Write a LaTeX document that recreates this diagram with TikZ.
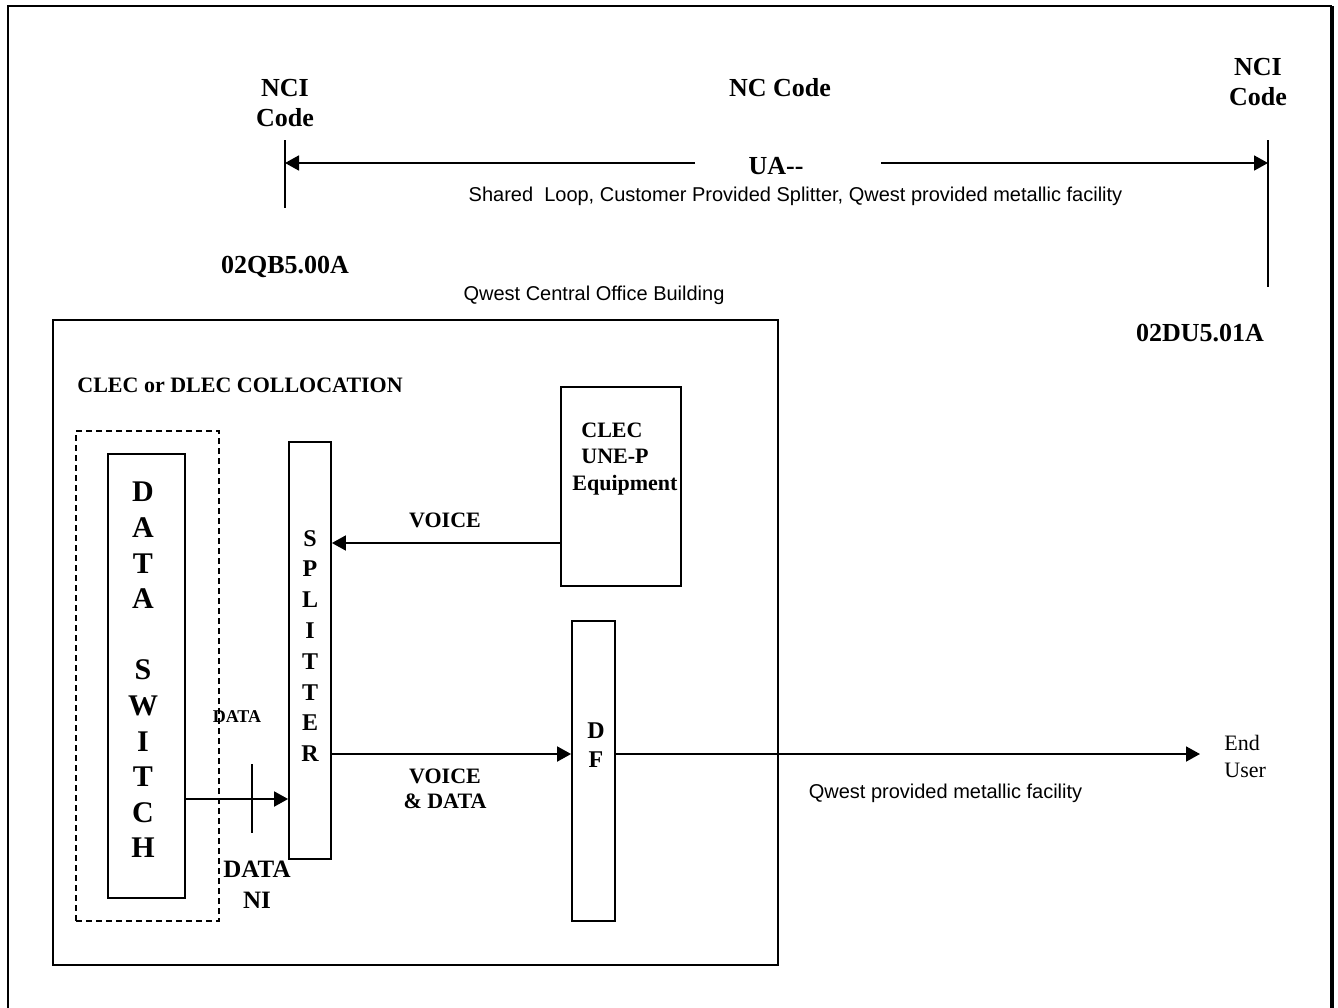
\documentclass[tikz,border=0pt]{standalone}
\usepackage{fontspec}
\setmainfont{Liberation Serif}
\newfontfamily\arialfont{Liberation Sans}
\usetikzlibrary{arrows.meta,fit}
\begin{document}
\begin{tikzpicture}[x=0.5pt,y=-0.5pt,
  ln/.style={line width=0.9pt},
  arr/.style={line width=0.9pt,-{Triangle[length=7pt,width=7.5pt]}},
  box/.style={draw,line width=0.9pt,inner sep=0pt},
  lbl/.style={inner sep=0pt,font=\bfseries\fontsize{11}{12.5}\selectfont,align=center},
  big/.style={inner sep=0pt,font=\bfseries\fontsize{13}{15}\selectfont,align=center},
  sans/.style={inner sep=0pt,font=\arialfont\fontsize{10}{12}\selectfont},
]
\useasboundingbox (0,0) rectangle (1338,1007);
\fill[white] (0,0) rectangle (1338,1007);
% outer frame
\draw[line width=1pt] (8,1015) -- (8,6) -- (1332,6);
\draw[line width=2pt] (1332,6) -- (1332,1015);

% top labels
\node[big] (nciL) at (285,103) {NCI\\Code};
\node[big] (nc) at (780,88) {NC Code};
\node[big] (nciR) at (1258,82) {NCI\\Code};
\coordinate (ltT) at (285,140); \coordinate (ltB) at (285,208);
\coordinate (rtT) at (1268,140); \coordinate (rtB) at (1268,287);
\draw[ln] (ltT) -- (ltB);
\draw[ln] (rtT) -- (rtB);
\node[big] (ua) at (776,166) {UA-{}-};
\coordinate (uaL) at (695,163); \coordinate (uaR) at (881,163);
\coordinate (ltM) at (285,163); \coordinate (rtM) at (1268,163);
\draw[arr] (uaL) -- (ltM);
\draw[arr] (uaR) -- (rtM);
\node[sans] (shared) at (795.5,196) {Shared\ \ Loop, Customer Provided Splitter, Qwest provided metallic facility};
\node[big] (qb) at (285,267) {02QB5.00A};
\node[sans] (cob) at (594,295) {Qwest Central Office Building};
\node[big] (du) at (1200,333) {02DU5.01A};

% central office
\node[box, fit={(53,320) (778,965)}] (co) {};
\node[lbl, anchor=west] (coll) at (77,385) {CLEC or DLEC COLLOCATION};
\node[draw, line width=0.75pt, dash pattern=on 3pt off 2pt, inner sep=0pt, fit={(76,431) (219,921)}] (dash) {};
\node[box, fit={(108,454) (185,898)}] (sw) {};
\node[inner sep=0pt, font=\bfseries\fontsize{15}{17.8}\selectfont, align=center] (swt) at (143,670) {D\\A\\T\\A\\[17.8pt]S\\W\\I\\T\\C\\H};

\node[box, fit={(289,442) (331,859)}] (sp) {};
\node[inner sep=0pt, font=\bfseries\fontsize{12}{15.4}\selectfont, align=center] (spt) at (310,646) {S\\P\\L\\I\\T\\T\\E\\R};

\node[box, fit={(561,387) (681,586)}] (cl) {};
\node[inner sep=0pt, font=\bfseries\fontsize{11}{13.25}\selectfont, align=left, anchor=west] (clt) at (572,459) {\hspace*{4.5pt}CLEC\\\hspace*{4.5pt}UNE-P\\Equipment};

\node[box, fit={(572,621) (615,921)}] (df) {};
\node[inner sep=0pt, font=\bfseries\fontsize{12}{14.5}\selectfont, align=center] (dft) at (596,745) {D\\F};

\node[lbl] (vo) at (445,520) {VOICE};
\node[lbl] (vd) at (445,788.5) {VOICE\\\& DATA};
\node[inner sep=0pt, font=\bfseries\fontsize{9}{11}\selectfont] (dsm) at (237,717) {DATA};
\node[inner sep=0pt, font=\bfseries\fontsize{12.5}{15.5}\selectfont, align=center] (dni) at (257,884.5) {DATA\\NI};
\coordinate (nT) at (252,764); \coordinate (nB) at (252,833);
\draw[ln] (nT) -- (nB);

% connectors
\coordinate (yv) at (0,543);
\draw[arr] (cl.west |- yv) -- (sp.east |- yv);
\coordinate (yvd) at (0,754);
\draw[arr] (sp.east |- yvd) -- (df.west |- yvd);
\coordinate (eu) at (1200,754);
\draw[arr] (df.east |- yvd) -- (eu);
\coordinate (yd) at (0,799);
\draw[arr] (sw.east |- yd) -- (sp.west |- yd);

\node[sans] (qpm) at (945.5,793) {Qwest provided metallic facility};
\node[inner sep=0pt, font=\fontsize{11}{13.5}\selectfont, align=left, anchor=west] (eut) at (1224,756.5) {End\\User};
\end{tikzpicture}
\end{document}
